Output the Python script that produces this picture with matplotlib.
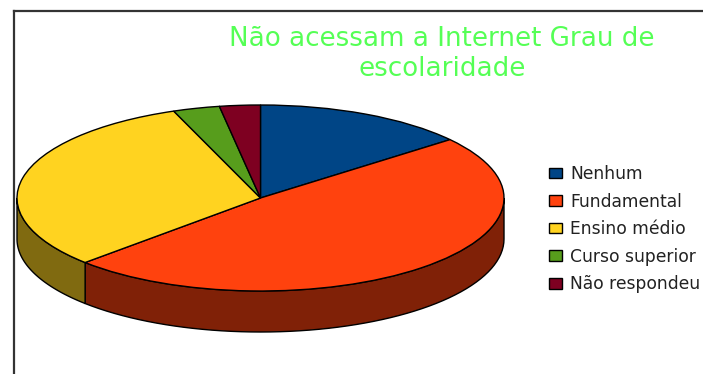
import numpy as np
import matplotlib
matplotlib.use("Agg")
import matplotlib.pyplot as plt
from matplotlib.colors import to_rgb
from matplotlib.patches import Rectangle

categories = ["Nenhum", "Fundamental", "Ensino médio", "Curso superior", "Não respondeu"]
values = [14.2, 48.6, 31.4, 3.1, 2.7]
colors = ["#004586", "#ff420e", "#ffd320", "#579d1c", "#7e0021"]
title = "Não acessam a Internet Grau de\nescolaridade"

W, H = 703, 374
# pie ellipse in pixels
cx, cy = 260.5, 198
rx, ry = 243.5, 93
depth = 41 / ry

fig = plt.figure(figsize=(W / 100, H / 100), dpi=100)
ax = fig.add_axes([0, 0, 1, 1])

wedges, _ = ax.pie(values, colors=colors, startangle=90, counterclock=False,
                   wedgeprops={"edgecolor": "black", "linewidth": 1.0, "zorder": 3})
ax.set_aspect("auto")
ax.set_xlim(-cx / rx, (W - cx) / rx)
ax.set_ylim(-(H - cy) / ry, cy / ry)

# side wall of the slices on the front half of the pie
ends = 90 - 360 * np.cumsum(values) / np.sum(values)
starts = np.concatenate([[90], ends[:-1]])
for a0, a1, col in zip(starts, ends, colors):
    hi = min(a0, 0)
    lo = max(a1, -180)
    if hi <= lo:
        continue
    t = np.radians(np.linspace(lo, hi, 60))
    x = np.cos(t)
    y = np.sin(t)
    px = np.concatenate([x, x[::-1]])
    py = np.concatenate([y, y[::-1] - depth])
    dark = tuple(c * 0.5 for c in to_rgb(col))
    ax.fill(px, py, facecolor=dark, edgecolor="black", linewidth=1.0, zorder=2)

# chart frame, open on the right and bottom
frame_kw = dict(color="#333333", lw=1.6, transform=fig.transFigure, clip_on=False)
ax.plot([13.5 / W, 13.5 / W], [0, 1 - 10.5 / H], **frame_kw)
ax.plot([13.5 / W, 1], [1 - 10.5 / H, 1 - 10.5 / H], **frame_kw)

fig.text(442 / W, 1 - 54 / H, title, color="#55ff55", fontsize=18.8, ha="center", va="center",
         family="DejaVu Sans", linespacing=1.24)

handles = [Rectangle((0, 0), 1, 1, facecolor=c, edgecolor="black", linewidth=1.0) for c in colors]
leg = fig.legend(handles, categories, loc="upper left", bbox_to_anchor=(549 / W, 1 - 165 / H),
                 frameon=False, fontsize=12.3, labelspacing=0.56, handlelength=0.76,
                 handleheight=0.58, handletextpad=0.47, borderpad=0, borderaxespad=0)
for txt in leg.get_texts():
    txt.set_color("#222222")

fig.savefig("out.png", dpi=100)
